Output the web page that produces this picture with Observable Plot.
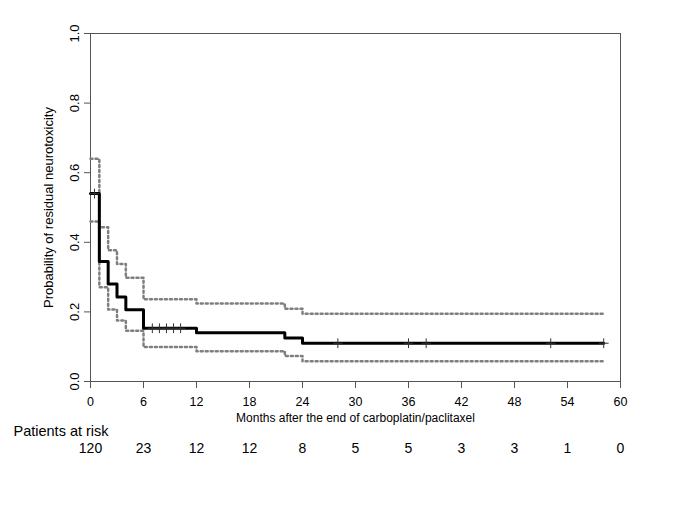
<!DOCTYPE html>
<html>
<head>
<meta charset="utf-8">
<script src="https://cdn.jsdelivr.net/npm/d3@7"></script>
<script src="https://cdn.jsdelivr.net/npm/@observablehq/plot@0.6"></script>
<style>
  html, body { margin: 0; padding: 0; background: #fff; }
  #chart { width: 685px; height: 513px; }
</style>
</head>
<body>
<div id="chart"></div>
<script>
// Kaplan-Meier estimate (step-after) and confidence limits
const kmTime  = [0, 1, 2, 3, 4, 6, 12, 22, 24, 58.1];
const kmSurv  = [0.54, 0.345, 0.28, 0.243, 0.206, 0.153, 0.14, 0.125, 0.11, 0.11];
const kmUpper = [0.64, 0.443, 0.377, 0.338, 0.298, 0.236, 0.224, 0.209, 0.195, 0.195];
const kmLower = [0.46, 0.271, 0.207, 0.175, 0.146, 0.099, 0.087, 0.073, 0.058, 0.058];
// censoring times
const censorTimes = [0.45, 7.0, 7.8, 8.6, 9.4, 10.2, 28, 36, 38, 52.1, 58.1];
// axis ticks
const xTicks = [0, 6, 12, 18, 24, 30, 36, 42, 48, 54, 60];
const yTicks = [0, 0.2, 0.4, 0.6, 0.8, 1.0];
// patients at risk
const riskTimes  = [0, 6, 12, 18, 24, 30, 36, 42, 48, 54, 60];
const riskCounts = [120, 23, 12, 12, 8, 5, 5, 3, 3, 1, 0];

const survAt = t => {
  let v = kmSurv[0];
  for (let i = 0; i < kmTime.length; i++) if (kmTime[i] <= t) v = kmSurv[i];
  return v;
};
const curve = kmTime.map((t, i) => ({t, s: kmSurv[i], u: kmUpper[i], l: kmLower[i]}));
const censors = censorTimes.map(t => ({t, s: survAt(t)}));
const risk = riskTimes.map((t, i) => ({t, n: riskCounts[i]}));

const plusSymbol = {
  draw(ctx, size) {
    const r = Math.sqrt(size) / 2;
    ctx.moveTo(-r, 0); ctx.lineTo(r, 0);
    ctx.moveTo(0, -r); ctx.lineTo(0, r);
  }
};

const chart = Plot.plot({
  width: 685,
  height: 513,
  marginLeft: 90,
  marginRight: 65,
  marginTop: 33,
  marginBottom: 132,
  style: {fontFamily: "'Liberation Sans', Arial, sans-serif", fontSize: "12px", color: "#000", background: "#fff"},
  x: {domain: [0, 60]},
  y: {domain: [0, 1]},
  marks: [
    Plot.frame({stroke: "#555", strokeWidth: 1}),
    Plot.axisX({ticks: xTicks, tickSize: 7, tickPadding: 9, fontSize: 12.5, label: null, stroke: "#555"}),
    Plot.axisY({ticks: yTicks, tickSize: 6, tickPadding: 6, tickRotate: -90, textAnchor: "middle", lineAnchor: "bottom",
                tickFormat: d => d.toFixed(1), fontSize: 13, label: null, stroke: "#555"}),
    Plot.text(["Probability of residual neurotoxicity"], {frameAnchor: "left", rotate: -90, dx: -42, text: d => d,
                textAnchor: "middle", lineAnchor: "middle", fontSize: 13}),
    Plot.text(["Months after the end of carboplatin/paclitaxel"], {frameAnchor: "bottom", dy: 40, text: d => d,
                lineAnchor: "bottom", fontSize: 12}),
    Plot.text(["Patients at risk"], {frameAnchor: "bottom-left", dx: -77, dy: 54, text: d => d,
                textAnchor: "start", lineAnchor: "bottom", fontSize: 14.5}),
    Plot.text(risk, {x: "t", frameAnchor: "bottom", dy: 71, text: d => String(d.n), lineAnchor: "bottom", fontSize: 14}),
    Plot.line(curve, {x: "t", y: "u", curve: "step-after", stroke: "#7f7f7f", strokeWidth: 2.5, strokeDasharray: "2,3"}),
    Plot.line(curve, {x: "t", y: "l", curve: "step-after", stroke: "#7f7f7f", strokeWidth: 2.5, strokeDasharray: "2,3"}),
    Plot.line(curve, {x: "t", y: "s", curve: "step-after", stroke: "#000", strokeWidth: 3}),
    Plot.dot(censors, {x: "t", y: "s", symbol: plusSymbol, r: 5.5, stroke: "#333", strokeWidth: 1, fill: "none"})
  ]
});
document.getElementById("chart").appendChild(chart);
</script>
</body>
</html>
